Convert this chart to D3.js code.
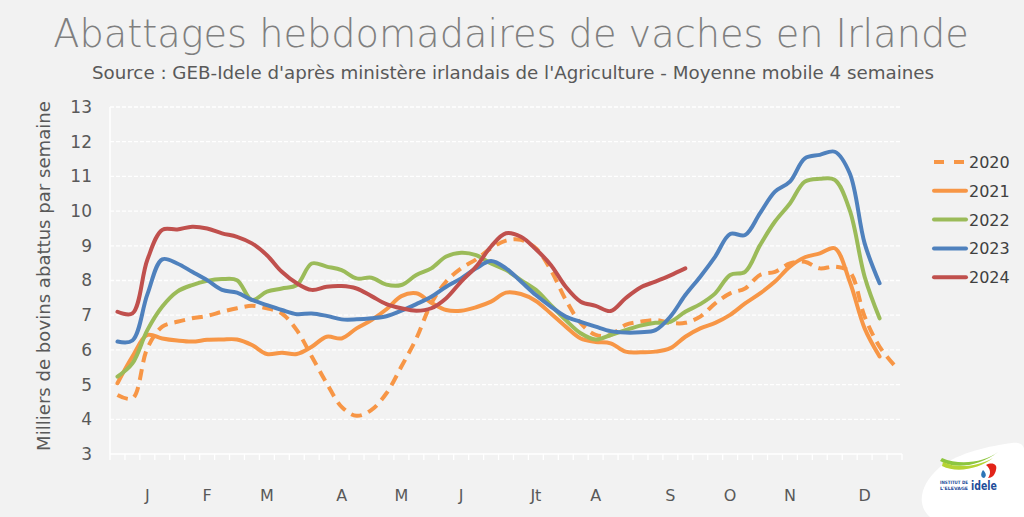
<!DOCTYPE html>
<html><head><meta charset="utf-8">
<script src="https://cdn.jsdelivr.net/npm/d3@7"></script>
<style>
html,body{margin:0;padding:0;background:#f2f2f2;}
svg{display:block;}
text{font-family:"Century Gothic","DejaVu Sans",sans-serif;}
</style></head>
<body>
<svg id="c" width="1024" height="517"></svg>
<script>
const title = "Abattages hebdomadaires de vaches en Irlande";
const subtitle = "Source : GEB-Idele d'après ministère irlandais de l'Agriculture - Moyenne mobile 4 semaines";
const yLabel = "Milliers de bovins abattus par semaine";
const weeks = d3.range(1, 54);
const monthLabels = ["J","F","M","A","M","J","Jt","A","S","O","N","D"];
const monthWeeks = [3,7,11,16,20,24,29,33,38,42,46,51];
const yTicks = [3,4,5,6,7,8,9,10,11,12,13];
const seriesNames = ["2020","2021","2022","2023","2024"];
const seriesColors = ["#f79646","#f79646","#9bbb59","#4f81bd","#c0504d"];
const seriesDashed = [true,false,false,false,false];
const s2020 = [4.70,4.60,6.05,6.67,6.81,6.91,6.98,7.10,7.20,7.27, 7.20,7.05,6.57,5.81,5.04,4.36,4.10,4.27,4.75,5.52, 6.33,7.34,7.97,8.35,8.61,8.93,9.15,9.17,8.93,8.30, 7.44,6.77,6.43,6.43,6.72,6.81,6.86,6.78,6.78,6.96, 7.34,7.63,7.77,8.16,8.25,8.49,8.54,8.35,8.40,8.25, 6.96,6.09,5.55];
const s2021 = [5.04,5.81,6.43,6.33,6.27,6.24,6.29,6.30,6.30,6.14, 5.88,5.92,5.88,6.09,6.38,6.33,6.62,6.86,7.17,7.55, 7.63,7.36,7.15,7.13,7.23,7.39,7.65,7.61,7.41,7.05, 6.67,6.33,6.23,6.19,5.95,5.93,5.95,6.05,6.38,6.62, 6.78,7.01,7.34,7.63,7.97,8.40,8.67,8.78,8.93,7.97, 6.62,5.81];
const s2022 = [5.23,5.61,6.57,7.25,7.68,7.87,7.99,8.04,8.01,7.44, 7.68,7.77,7.87,8.49,8.40,8.30,8.06,8.08,7.88,7.87, 8.16,8.35,8.69,8.80,8.73,8.49,8.30,8.01,7.73,7.29, 6.86,6.48,6.30,6.43,6.57,6.70,6.78,6.81,7.10,7.32, 7.63,8.16,8.25,9.02,9.70,10.22,10.85,10.93,10.90,10.03, 8.11,6.91];
const s2023 = [6.24,6.27,7.60,8.61,8.49,8.25,8.01,7.73,7.65,7.44, 7.29,7.15,7.03,7.05,6.98,6.88,6.88,6.91,6.97,7.13, 7.32,7.53,7.82,8.06,8.35,8.56,8.35,7.97,7.58,7.25, 6.96,6.81,6.67,6.54,6.50,6.51,6.57,6.96,7.58,8.11, 8.69,9.34,9.31,9.94,10.56,10.85,11.52,11.62,11.71,11.09, 9.07,7.92];
const s2024 = [7.10,7.05,8.60,9.46,9.47,9.55,9.50,9.36,9.26,9.07, 8.73,8.25,7.92,7.73,7.82,7.84,7.77,7.55,7.32,7.20, 7.13,7.20,7.49,7.97,8.40,8.98,9.36,9.26,8.90,8.45, 7.82,7.39,7.27,7.12,7.49,7.80,7.97,8.15,8.35];
const seriesValues = [s2020,s2021,s2022,s2023,s2024];

const svg = d3.select("#c");
const pL = 110, pR = 902, pT = 107, pB = 454;
const x = d3.scaleBand().domain(weeks).range([pL, pR]).padding(0);
const y = d3.scaleLinear().domain([3, 13]).range([pB, pT]);
const cx = w => x(w) + x.bandwidth() / 2;

function fitText(sel, width) {
  const n = sel.node();
  const fs = parseFloat(sel.attr("font-size"));
  const w = n.getComputedTextLength();
  sel.attr("font-size", (fs * width / w).toFixed(2));
}

// title
const t = svg.append("text").attr("x", 511).attr("y", 47).attr("text-anchor", "middle")
  .attr("font-size", 38).attr("font-weight", 300).attr("fill", "#7f7f7f").text(title);
fitText(t, 916);
const st = svg.append("text").attr("x", 513).attr("y", 79).attr("text-anchor", "middle")
  .attr("font-size", 15).attr("fill", "#595959").text(subtitle);
fitText(st, 842);

// grid
svg.append("g").selectAll("line").data(yTicks.filter(v => v > 3)).join("line")
  .attr("x1", pL).attr("x2", pR).attr("y1", d => y(d)).attr("y2", d => y(d))
  .attr("stroke", "#ffffff").attr("stroke-width", 1.3).attr("stroke-dasharray", "4,2");

// axes lines
svg.append("line").attr("x1", pL).attr("x2", pL).attr("y1", pT).attr("y2", pB)
  .attr("stroke", "#ffffff").attr("stroke-width", 1.5);
svg.append("line").attr("x1", pL).attr("x2", pR).attr("y1", pB).attr("y2", pB)
  .attr("stroke", "#ffffff").attr("stroke-width", 1.5);
// category boundary ticks
svg.append("g").selectAll("line").data(weeks.concat([54])).join("line")
  .attr("x1", d => d <= 53 ? x(d) : pR).attr("x2", d => d <= 53 ? x(d) : pR)
  .attr("y1", pB).attr("y2", pB + 6)
  .attr("stroke", "#ffffff").attr("stroke-width", 1.3);

// y axis
const ya = svg.append("g").attr("transform", `translate(${pL},0)`)
  .call(d3.axisLeft(y).tickValues(yTicks).tickSize(0).tickPadding(18).tickFormat(d3.format("d")));
ya.select(".domain").remove();
ya.selectAll("text").attr("font-size", 17).attr("fill", "#595959")
  .attr("font-family", "'Century Gothic','DejaVu Sans',sans-serif");

// x axis
const xa = svg.append("g").attr("transform", `translate(0,${pB})`)
  .call(d3.axisBottom(x).tickValues(monthWeeks).tickSize(0).tickPadding(36)
    .tickFormat(d => monthLabels[monthWeeks.indexOf(d)]));
xa.select(".domain").remove();
xa.selectAll("text").attr("font-size", 16).attr("fill", "#595959")
  .attr("font-family", "'Century Gothic','DejaVu Sans',sans-serif");

// y label
const yl = svg.append("text").attr("transform", "translate(50,276) rotate(-90)")
  .attr("text-anchor", "middle").attr("font-size", 17).attr("fill", "#595959").text(yLabel);
fitText(yl, 350);

// lines
const line = d3.line().x((d, i) => cx(weeks[i])).y(d => y(d)).curve(d3.curveCatmullRom.alpha(0.5));
seriesValues.forEach((vals, k) => {
  svg.append("path").datum(vals).attr("d", line).attr("fill", "none")
    .attr("stroke", seriesColors[k]).attr("stroke-width", 4)
    .attr("stroke-linecap", seriesDashed[k] ? "butt" : "round")
    .attr("stroke-linejoin", "round")
    .attr("stroke-dasharray", seriesDashed[k] ? "11,7" : null);
});

// legend
const lg = svg.append("g");
seriesNames.forEach((name, k) => {
  const ly = 162 + k * 28.8;
  lg.append("line").attr("x1", 934).attr("x2", 966).attr("y1", ly).attr("y2", ly)
    .attr("stroke", seriesColors[k]).attr("stroke-width", 4)
    .attr("stroke-linecap", seriesDashed[k] ? "butt" : "round")
    .attr("stroke-dasharray", seriesDashed[k] ? "10,10" : null);
  lg.append("text").attr("x", 969).attr("y", ly + 6).attr("font-size", 16)
    .attr("fill", "#404040").text(name);
});

// logo
const logo = svg.append("g");
logo.append("path").attr("d", "M930,517 C916,505 920,484 940,467 C960,452 990,446 1012,443 C1020,442 1024,445 1024,450 L1024,517 Z")
  .attr("fill", "#ffffff");
logo.append("path").attr("d", "M940,461 C955,470 980,466 998,452 C985,462 960,466 942,458 Z")
  .attr("fill", "#8dc63f");
logo.append("path").attr("d", "M942,466 C958,474 980,468 993,458 C980,465 960,470 943,462 Z")
  .attr("fill", "#b5d334");
logo.append("path").attr("d", "M986,465 C992,462 998,464 996,470 C995,475 992,478 988,478 C991,474 991,469 986,465 Z")
  .attr("fill", "#e2241a");
logo.append("path").attr("d", "M983,470 C986,473 987,476 984,478 C981,478 980,474 983,470 Z")
  .attr("fill", "#2e75b6");
logo.append("text").attr("x", 940).attr("y", 484).attr("font-size", 4.5).attr("font-weight", "bold")
  .attr("textLength", 28).attr("lengthAdjust", "spacingAndGlyphs")
  .attr("fill", "#1f4e9a").attr("font-family", "'DejaVu Sans',sans-serif").text("INSTITUT DE");
logo.append("text").attr("x", 940).attr("y", 490).attr("font-size", 4.5).attr("font-weight", "bold")
  .attr("textLength", 28).attr("lengthAdjust", "spacingAndGlyphs")
  .attr("fill", "#1f4e9a").attr("font-family", "'DejaVu Sans',sans-serif").text("L'ELEVAGE");
logo.append("text").attr("x", 971).attr("y", 490).attr("font-size", 13).attr("font-weight", "bold")
  .attr("textLength", 26).attr("lengthAdjust", "spacingAndGlyphs")
  .attr("fill", "#1f4e9a").attr("font-family", "'DejaVu Sans',sans-serif").text("idele");
</script>
</body></html>
